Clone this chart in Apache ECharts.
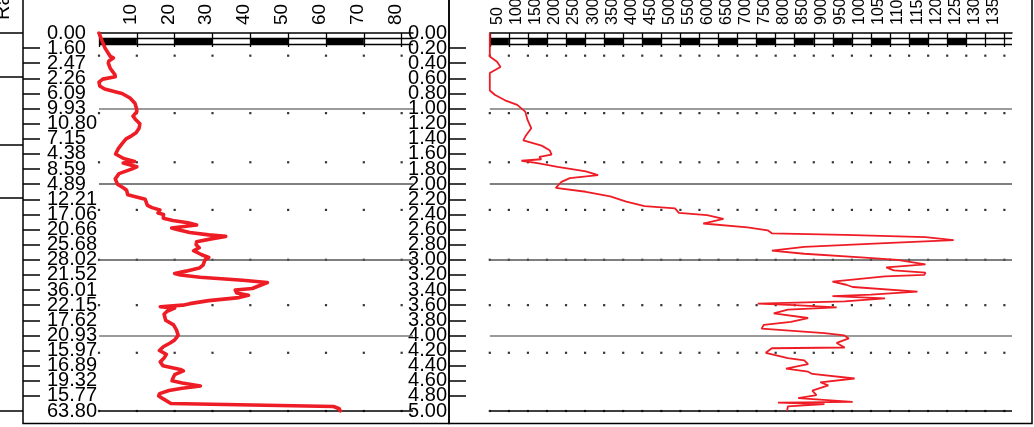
<!DOCTYPE html>
<html><head><meta charset="utf-8">
<script src="https://cdn.jsdelivr.net/npm/echarts@6/dist/echarts.min.js"></script>
<style>html,body{margin:0;padding:0;background:#fff}#c{width:1034px;height:427px}</style>
</head><body><div id="c"></div>
<script>
// ---- data ----
const leftDepth = [0.00,0.09,0.20,0.27,0.31,0.33,0.37,0.40,0.47,0.55,0.58,0.61,0.65,0.70,0.74,0.78,0.80,0.86,0.93,1.00,1.04,1.10,1.14,1.20,1.26,1.32,1.36,1.40,1.47,1.53,1.60,1.66,1.70,1.72,1.77,1.80,1.86,1.93,2.00,2.05,2.08,2.14,2.20,2.28,2.31,2.34,2.38,2.40,2.45,2.48,2.51,2.54,2.58,2.60,2.64,2.67,2.69,2.72,2.76,2.80,2.84,2.88,2.93,2.97,3.00,3.07,3.11,3.15,3.18,3.20,3.23,3.27,3.30,3.33,3.38,3.40,3.44,3.47,3.50,3.54,3.58,3.60,3.62,3.64,3.68,3.72,3.80,3.86,3.93,4.00,4.06,4.10,4.15,4.20,4.25,4.30,4.35,4.40,4.45,4.47,4.52,4.57,4.60,4.63,4.67,4.70,4.73,4.77,4.80,4.84,4.90,4.94,4.97,5.00];
const leftValue = [0.0,0.7,1.6,2.5,3.0,3.8,2.6,2.47,3.0,4.2,4.3,1.0,0.0,0.2,1.5,4.5,6.09,8.2,9.5,9.93,10.0,9.0,9.6,10.8,10.6,9.8,8.6,7.15,6.0,5.1,4.38,6.5,9.4,6.4,10.0,8.59,5.3,4.3,4.89,6.5,7.3,7.6,12.21,12.8,14.0,16.1,15.6,17.06,17.0,19.5,23.5,25.8,19.2,20.66,24.0,29.0,33.5,30.0,25.8,25.68,26.5,25.0,27.0,29.0,28.02,27.5,26.5,23.0,20.0,21.52,26.7,38.0,44.5,43.0,40.5,36.01,36.4,39.5,37.0,29.0,24.0,22.15,16.2,20.0,18.0,17.2,17.62,19.7,20.5,20.93,20.0,18.8,17.0,15.97,17.8,17.2,16.2,16.89,21.5,22.3,20.0,19.5,19.32,22.0,26.8,22.0,18.5,16.0,15.77,17.0,19.0,62.0,63.5,63.80];

const rightDepth = [0.00,0.31,0.38,0.45,0.49,0.53,0.76,0.82,0.89,0.95,1.04,1.15,1.26,1.32,1.37,1.42,1.49,1.55,1.61,1.64,1.67,1.69,1.72,1.77,1.83,1.88,1.92,1.97,2.05,2.10,2.16,2.23,2.29,2.32,2.38,2.41,2.46,2.52,2.57,2.61,2.65,2.67,2.70,2.74,2.78,2.83,2.88,2.92,2.97,3.00,3.06,3.10,3.14,3.17,3.20,3.22,3.29,3.33,3.36,3.42,3.46,3.48,3.51,3.55,3.58,3.60,3.63,3.66,3.71,3.77,3.82,3.86,3.91,3.97,4.00,4.04,4.10,4.16,4.17,4.23,4.30,4.33,4.38,4.44,4.48,4.51,4.57,4.62,4.66,4.73,4.79,4.83,4.88,4.89,4.91,4.94,5.00];
const rightValue = [0,0,19,28,14,0,0,14,40,72,93,99,109,100,93,88,136,157,162,130,135,83,125,178,252,284,210,188,173,252,316,358,406,486,496,570,613,560,676,729,740,931,1143,1217,1037,825,740,825,984,1069,1143,1040,1060,1143,1140,1037,899,935,952,1122,1000,899,1037,931,703,800,910,782,745,835,790,719,713,878,930,942,910,931,740,724,782,825,835,777,835,846,957,867,888,846,857,809,952,756,878,782,780];

const leftTickLabels = ['0.00','1.60','2.47','2.26','6.09','9.93','10.80','7.15','4.38','8.59','4.89','12.21','17.06','20.66','25.68','28.02','21.52','36.01','22.15','17.62','20.93','15.97','16.89','19.32','15.77','63.80'];
const leftXTicks = [0,10,20,30,40,50,60,70,80];
const leftXLabels = [10,20,30,40,50,60,70,80];
const rightXTicks = [0,50,100,150,200,250,300,350,400,450,500,550,600,650,700,750,800,850,900,950,1000,1050,1100,1150,1200,1250,1300,1350];
const rightXLabels = [50,100,150,200,250,300,350,400,450,500,550,600,650,700,750,800,850,900,950,1000,1050,1100,1150,1200,1250,1300,1350];
const leftBars = [[0,10],[20,30],[40,50],[60,70]];
const rightBars = [[0,50],[100,150],[200,250],[300,350],[400,450],[500,550],[600,650],[700,750],[800,850],[900,950],[1000,1050],[1100,1150],[1200,1250]];
const dotRows = [0.30,1.06,1.71,2.34,3.00,3.60,4.23,5.00];
const outerTicks = [0,0.58,1.48,2.18,5.0];
const endLabelDepths = [0,5];
const gridLevels = [1,2,3,4,5];
const barBand = [0.07,0.155];

// ---- chart ----
const FONT = "'Liberation Sans', Arial, sans-serif";
const RED = '#ee1c25';
const chart = echarts.init(document.getElementById('c'), null, {renderer:'canvas'});

const L = {left:99, width:314, max:83, labelShiftPx:6.3};
const R = {left:489.8, width:522.2, max:1370, labelShiftPx:11};

function markLines(){
  const d = gridLevels.map(v => ({yAxis:v, lineStyle:{color: v===5 ? '#000' : (v===2||v===3 ? '#555' : '#7a7a7a'), width:1.5, type:'solid'}}));
  barBand.forEach(v => d.push({yAxis:v, lineStyle:{color:'#000', width:1.3, type:'solid'}}));
  return {silent:true, symbol:['none','none'], label:{show:false}, animation:false, data:d};
}
function markAreas(bars){
  return {silent:true, itemStyle:{color:'#000'}, animation:false,
    data: bars.map(b => [{xAxis:b[0], yAxis:barBand[0]},{xAxis:b[1], yAxis:barBand[1]}])};
}
function dots(ticks){
  const out=[]; dotRows.forEach(r => ticks.forEach(t => out.push([t,r]))); return out;
}
function mainX(g, P, ticks){
  return {gridIndex:g, type:'value', position:'top', min:0, max:P.max,
    axisLine:{show:true, onZero:false, lineStyle:{color:'#000', width:1.5}},
    axisTick:{show:true, inside:true, length:14, customValues:ticks, lineStyle:{color:'#000', width:1.3}},
    axisLabel:{show:false}, splitLine:{show:false}};
}
function labelX(g, P, labels, size){
  const d = P.labelShiftPx * P.max / P.width;   // same scale, nudged left a few px
  return {gridIndex:g, type:'value', position:'top', min:d, max:P.max + d,
    axisLine:{show:false}, axisTick:{show:false}, splitLine:{show:false},
    axisLabel:{rotate:90, customValues:labels, fontSize:size, color:'#000', margin:8, fontFamily:FONT,
      formatter:(v)=>String(v)}};
}
const yBase = {type:'value', inverse:true, min:0, max:5, interval:0.2, splitLine:{show:false}};
const hiddenX = (g) => ({gridIndex:g, type:'value', show:false, min:0, max:1});
const leftFmt = (v)=>leftTickLabels[Math.round(v/0.2)] || '';
const rightFmt = (v)=>v.toFixed(2);
function leftLabelAxis(extra){
  return Object.assign({}, yBase, {gridIndex:4, position:'left', axisLine:{show:false}, axisTick:{show:false}}, extra);
}

chart.setOption({
  animation:false,
  textStyle:{fontFamily:FONT},
  grid:[
    {left:L.left, top:33, width:L.width, height:378, outerBoundsMode:'none'},
    {left:R.left, top:33, width:R.width, height:378, outerBoundsMode:'none'},
    {left:23, top:-10, width:426, height:433.5, show:true, borderColor:'#000', borderWidth:1.5, backgroundColor:'transparent', outerBoundsMode:'none'},
    {left:449, top:-10, width:583, height:433.5, show:true, borderColor:'#000', borderWidth:1.5, backgroundColor:'transparent', outerBoundsMode:'none'},
    {left:23, top:33, width:76, height:378, outerBoundsMode:'none'},
    {left:449, top:33, width:40.8, height:378, outerBoundsMode:'none'}
  ],
  xAxis:[
    mainX(0, L, leftXTicks),
    mainX(1, R, rightXTicks),
    hiddenX(2), hiddenX(3), hiddenX(4), hiddenX(5),
    labelX(0, L, leftXLabels, 19),
    labelX(1, R, rightXLabels, 16)
  ],
  yAxis:[
    Object.assign({}, yBase, {gridIndex:4, position:'left',
      axisLine:{show:false},
      axisTick:{show:true, inside:true, length:17, lineStyle:{color:'#000', width:1.5}},
      axisLabel:{inside:true, margin:24, fontSize:20, color:'#000', fontFamily:FONT, showMinLabel:false, showMaxLabel:false,
        formatter:leftFmt}}),
    Object.assign({}, yBase, {gridIndex:4, position:'left',
      axisLine:{show:false},
      axisTick:{show:true, inside:false, length:23, customValues:outerTicks, lineStyle:{color:'#000', width:1.5}},
      axisLabel:{show:false}}),
    Object.assign({}, yBase, {gridIndex:5, position:'left',
      axisLine:{show:false},
      axisTick:{show:true, inside:true, length:17, lineStyle:{color:'#000', width:1.5}},
      axisLabel:{margin:2, fontSize:20, color:'#000', fontFamily:FONT, showMinLabel:false, showMaxLabel:false,
        formatter:rightFmt}}),
    Object.assign({}, yBase, {gridIndex:0, show:false}),
    Object.assign({}, yBase, {gridIndex:1, show:false}),
    {gridIndex:2, type:'value', show:false, min:0, max:1},
    {gridIndex:3, type:'value', show:false, min:0, max:1},
    leftLabelAxis({axisLabel:{inside:true, margin:24, fontSize:20, color:'#000', fontFamily:FONT,
      customValues:endLabelDepths, formatter:leftFmt}}),
    Object.assign({}, yBase, {gridIndex:5, position:'left', axisLine:{show:false}, axisTick:{show:false},
      axisLabel:{margin:2, fontSize:20, color:'#000', fontFamily:FONT, customValues:endLabelDepths, formatter:rightFmt}})
  ],
  series:[
    {type:'scatter', xAxisIndex:0, yAxisIndex:3, data:dots(leftXTicks), symbol:'rect', symbolSize:2.2,
     itemStyle:{color:'#000'}, silent:true, z:1},
    {type:'scatter', xAxisIndex:1, yAxisIndex:4, data:dots(rightXTicks), symbol:'rect', symbolSize:2.2,
     itemStyle:{color:'#000'}, silent:true, z:1},
    {type:'line', xAxisIndex:0, yAxisIndex:3, data:leftDepth.map((d,i)=>[leftValue[i], d]),
     showSymbol:false, symbol:'none', lineStyle:{color:RED, width:3.6, join:'round', cap:'round'}, itemStyle:{color:RED}, z:5,
     markLine:markLines(), markArea:markAreas(leftBars)},
    {type:'line', xAxisIndex:1, yAxisIndex:4, data:rightDepth.map((d,i)=>[rightValue[i], d]),
     showSymbol:false, symbol:'none', lineStyle:{color:RED, width:1.8}, itemStyle:{color:RED}, z:5,
     markLine:markLines(), markArea:markAreas(rightBars)}
  ],
  graphic:[
    {type:'text', x:13, y:20, rotation:Math.PI/2,
     style:{text:'Ra', font:"20px 'Liberation Sans', Arial, sans-serif", fill:'#000',
       textAlign:'left', align:'left', textVerticalAlign:'bottom', verticalAlign:'bottom'}}
  ]
});
</script></body></html>
